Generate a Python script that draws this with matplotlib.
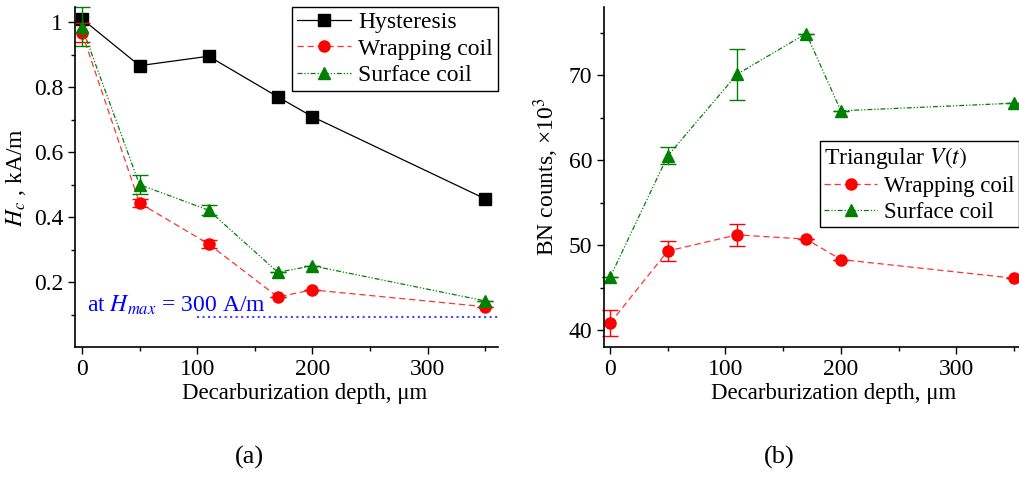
import matplotlib
matplotlib.use("Agg")
import matplotlib.pyplot as plt
import numpy as np

plt.rcParams["font.family"] = ["Liberation Serif", "DejaVu Serif"]
plt.rcParams["mathtext.fontset"] = "stix"
plt.rcParams["font.size"] = 17

# data
depth = [0, 50, 110, 170, 200, 350]

# (a) coercive field, kA/m
hc_hyst = [1.01, 0.866, 0.895, 0.770, 0.709, 0.456]
hc_wrap = [0.968, 0.443, 0.317, 0.154, 0.176, 0.124]
hc_wrap_err = [0.03, 0.012, 0.012, 0.0, 0.0, 0.0]
hc_surf = [0.985, 0.50, 0.421, 0.230, 0.250, 0.142]
hc_surf_err = [0.06, 0.028, 0.015, 0.0, 0.0, 0.0]

# (b) BN counts, x10^3
bn_wrap = [40.8, 49.3, 51.2, 50.7, 48.3, 46.1]
bn_wrap_err = [1.5, 1.2, 1.3, 0.0, 0.0, 0.0]
bn_surf = [46.2, 60.5, 70.1, 74.9, 65.8, 66.7]
bn_surf_err = [0.0, 1.0, 3.0, 0.0, 0.0, 0.0]

hmax_line = 0.093

fig = plt.figure(figsize=(10.19, 4.78), dpi=100)
ax1 = fig.add_axes([0.0736, 0.274, 0.415, 0.711])
ax2 = fig.add_axes([0.593, 0.274, 0.4145, 0.711])

red_dash = (0, (5, 3))
green_dd = (0, (4, 1.5, 1, 1.5, 1, 1.5))


def style(ax):
    for s in ["top", "right"]:
        ax.spines[s].set_visible(False)
    ax.spines["left"].set_linewidth(1.2)
    ax.spines["bottom"].set_linewidth(1.2)
    ax.tick_params(direction="out", length=5, width=1, labelsize=17)
    ax.tick_params(which="minor", direction="out", length=3, width=1)
    ax.set_xticks([0, 100, 200, 300])
    ax.set_xticks([50, 150, 250, 350], minor=True)
    ax.set_xlabel("Decarburization depth, μm", fontsize=16.5)
    ax.xaxis.set_label_coords(0.544, -0.105)


def series(ax, y, err, color, lcolor, ls, marker, ms, label):
    if err is not None:
        ax.errorbar(depth, y, yerr=err, fmt="none", ecolor=color, capsize=6,
                    elinewidth=1.0, capthick=1.0, clip_on=False)
    ax.plot(depth, y, color=lcolor, ls=ls, lw=0.9, marker=marker, ms=ms,
            mfc=color, mec=color, label=label, clip_on=False)


# ---- panel (a)
series(ax1, hc_hyst, None, "black", "black", "-", "s", 8, "Hysteresis")
series(ax1, hc_wrap, hc_wrap_err, "red", "#ff3333", red_dash, "o", 8, "Wrapping coil")
series(ax1, hc_surf, hc_surf_err, "green", "green", green_dd, "^", 9, "Surface coil")
ax1.plot([100, 361], [hmax_line, hmax_line], ls=":", color="#4444ff", lw=1.5)
ax1.text(4, 0.128, "at $H_{max}$ = 300 A/m", color="blue", fontsize=17, va="center")

ax1.set_xlim(-6, 361)
ax1.set_ylim(0, 1.046)
ax1.set_yticks([0.2, 0.4, 0.6, 0.8, 1.0])
ax1.set_yticklabels(["0.2", "0.4", "0.6", "0.8", "1"])
ax1.set_yticks([0.1, 0.3, 0.5, 0.7, 0.9], minor=True)
style(ax1)
ax1.set_ylabel("$H_c$ , kA/m", fontsize=17, labelpad=4)
leg1 = ax1.legend(loc="upper right", bbox_to_anchor=(1.0, 1.0), borderaxespad=0,
                  fancybox=False, edgecolor="black", framealpha=1, fontsize=17,
                  handlelength=2.3, handletextpad=0.3, labelspacing=0.2,
                  borderpad=0.2)
leg1.get_frame().set_linewidth(1.0)

# ---- panel (b)
series(ax2, bn_wrap, bn_wrap_err, "red", "#ff3333", red_dash, "o", 8, "Wrapping coil")
series(ax2, bn_surf, bn_surf_err, "green", "green", green_dd, "^", 9, "Surface coil")
ax2.set_xlim(-5, 361)
ax2.set_ylim(38, 78)
ax2.set_yticks([40, 50, 60, 70])
ax2.set_yticks([45, 55, 65, 75], minor=True)
style(ax2)
ax2.set_ylabel("BN counts, ×10$^3$", fontsize=17, labelpad=6)
leg2 = ax2.legend(loc="upper left", bbox_to_anchor=(0.51, 0.607), borderaxespad=0,
                  fancybox=False, edgecolor="black", framealpha=1, fontsize=16.5,
                  title="Triangular $\\it{V(t)}$", title_fontsize=17,
                  handlelength=2.3, handletextpad=0.3, labelspacing=0.2,
                  borderpad=0.2)
leg2._legend_box.align = "left"
leg2.get_frame().set_linewidth(1.0)

fig.text(0.245, 0.03, "(a)", fontsize=19, ha="center")
fig.text(0.765, 0.03, "(b)", fontsize=19, ha="center")

fig.savefig("out.png", dpi=100)
